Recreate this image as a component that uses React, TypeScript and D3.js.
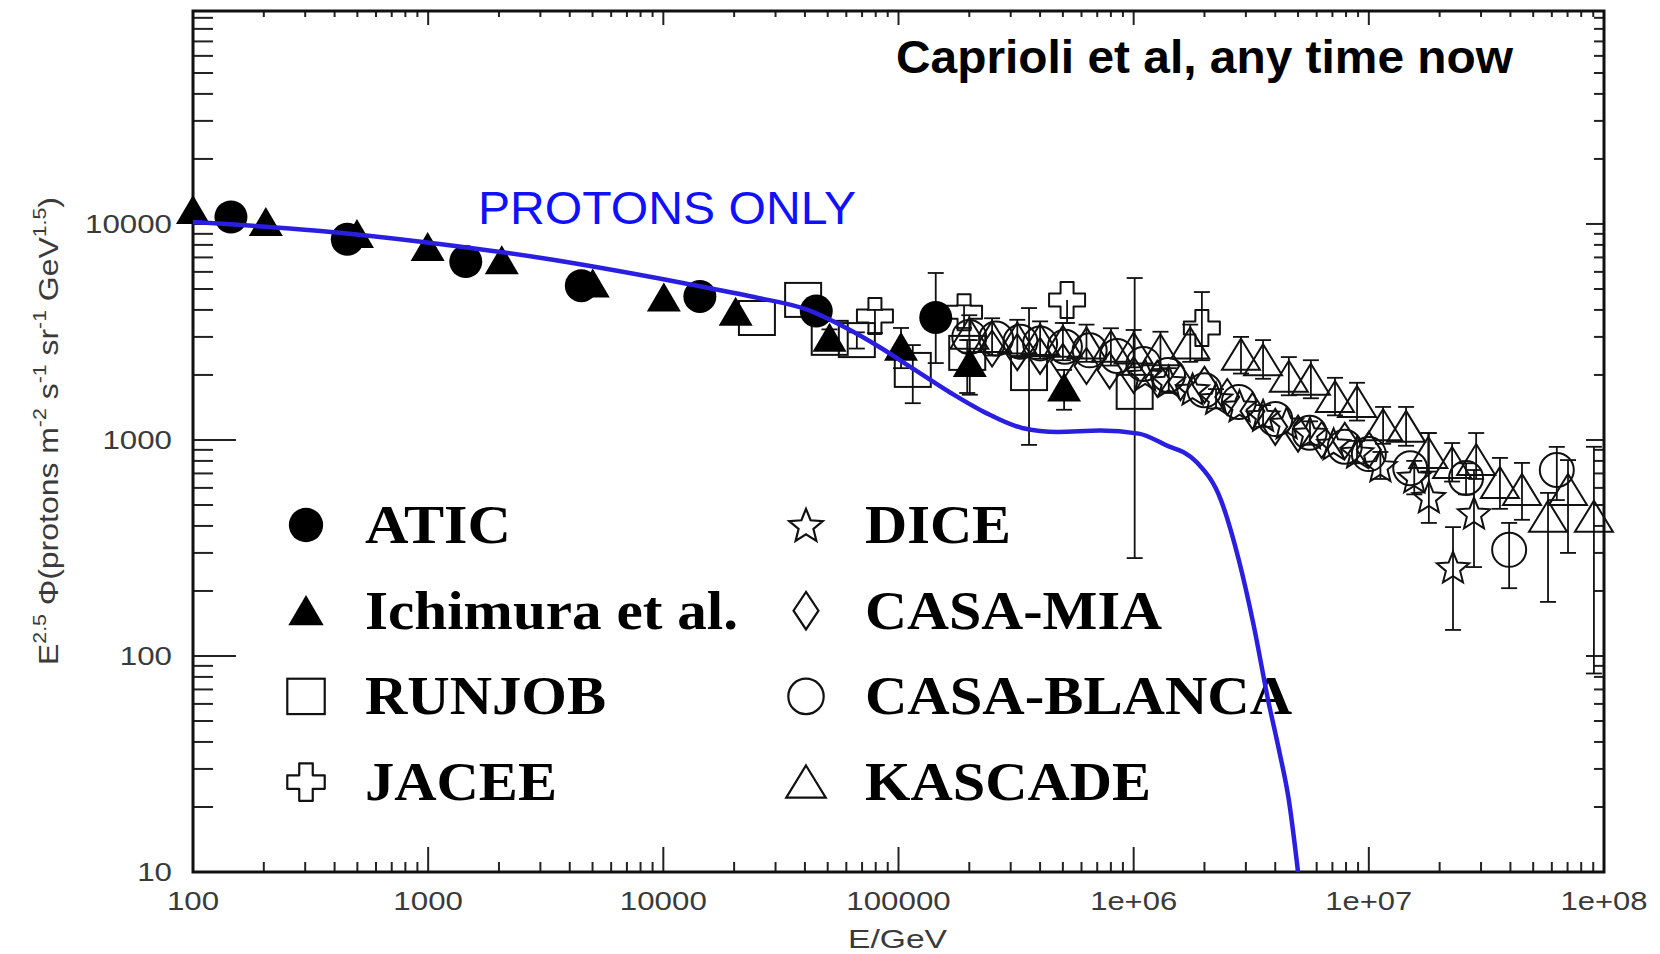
import React from 'react';
import * as d3 from 'd3';

const WIDTH = 1660;
const HEIGHT = 954;

// axis ticks
const xTickValues = [100, 1000, 10000, 100000, 1e6, 1e7, 1e8];
const xTickLabels = ['100', '1000', '10000', '100000', '1e+06', '1e+07', '1e+08'];
const yTickValues = [10, 100, 1000, 10000];
const yTickLabels = ['10', '100', '1000', '10000'];

// ATIC (filled circles)
const aticE = [145, 453, 1445, 4480, 14300, 44700, 144000];
const aticFlux = [10770, 8490, 6700, 5180, 4620, 3950, 3690];
const aticHi = [null, null, null, null, null, 4300, 5930];
const aticLo = [null, null, null, null, null, 3650, 2270];

// Ichimura et al. (filled triangles)
const ichimuraE = [100, 204, 498, 995, 2056, 5010, 10050, 20300, 50900, 102500, 201000, 506000];
const ichimuraFlux = [11600, 10200, 8990, 7830, 6800, 5300, 4570, 3920, 2970, 2700, 2270, 1750];
const ichimuraHi = [null, null, null, null, null, null, null, null, 3250, 3300, 2900, 2110];
const ichimuraLo = [null, null, null, null, null, null, null, null, 2700, 2150, 1620, 1380];

// RUNJOB (open squares)
const runjobE = [25000, 39300, 51000, 66500, 115000, 196000, 359000, 1010000];
const runjobFlux = [3670, 4450, 2970, 2900, 2110, 2530, 2040, 1670];
const runjobHi = [null, null, null, 3150, 2750, 2900, 4080, 5620];
const runjobLo = [null, null, null, 2650, 1480, 1650, 949, 284];

// JACEE (open crosses)
const jaceeE = [79400, 190000, 521000, 1950000];
const jaceeFlux = [3750, 3900, 4450, 3300];
const jaceeHi = [4000, 4200, null, 4840];
const jaceeLo = [3130, 3300, 3480, 2340];

// DICE (open stars)
const diceE = [1.12e6, 1.41e6, 1.78e6, 2.24e6, 2.82e6, 3.55e6, 4.47e6, 5.62e6, 7.08e6, 8.91e6, 1.12e7, 1.56e7, 1.8e7, 2.28e7, 2.8e7];
const diceFlux = [2000, 1870, 1720, 1560, 1440, 1300, 1200, 1080, 960, 880, 760, 675, 545, 258, 459];
const diceHi = [null, 2150, null, 1720, null, 1450, null, 1220, null, 990, 880, 800, 1077, 395, 726];
const diceLo = [null, 1650, null, 1400, null, 1150, null, 950, null, 780, 660, 560, 413, 132, 258];

// CASA-MIA (open diamonds)
const casaMiaE = [2.5e5, 3.2e5, 4e5, 5e5, 6.3e5, 7.9e5, 1e6, 1.26e6, 1.58e6, 2e6, 2.5e6, 3.2e6, 4e6, 5e6, 6.3e6, 7.9e6, 1e7];
const casaMiaFlux = [2650, 2550, 2450, 2300, 2200, 2100, 2000, 1920, 1850, 1800, 1580, 1360, 1150, 1070, 1000, 990, 900];

// CASA-BLANCA (open circles)
const casaBlancaE = [2e5, 2.6e5, 3.3e5, 4e5, 5.1e5, 6.5e5, 8.5e5, 1.1e6, 1.4e6, 2e6, 2.8e6, 4e6, 5.6e6, 7.9e6, 1e7, 1.5e7, 2.59e7, 3.95e7, 6.3e7];
const casaBlancaFlux = [3000, 2950, 2850, 2800, 2700, 2600, 2450, 2250, 2000, 1700, 1500, 1250, 1080, 930, 860, 740, 667, 310, 726];
const casaBlancaHi = [null, null, null, null, null, null, null, null, null, null, null, null, null, null, null, null, 780, 413, 929];
const casaBlancaLo = [null, null, null, null, null, null, null, null, null, null, null, null, null, null, null, null, 560, 206, 527];

// KASCADE (open triangles)
const kascadeE = [2e5, 2.5e5, 3.2e5, 4e5, 5e5, 6.3e5, 8e5, 1e6, 1.3e6, 1.74e6, 2.86e6, 3.55e6, 4.57e6, 5.67e6, 7.18e6, 8.91e6, 1.15e7, 1.44e7, 1.79e7, 2.26e7, 2.86e7, 3.61e7, 4.48e7, 5.78e7, 7.03e7, 9.06e7];
const kascadeFlux = [3100, 3000, 2950, 2900, 2850, 2800, 2700, 2650, 2600, 2800, 2480, 2340, 1960, 1900, 1580, 1500, 1170, 1150, 871, 783, 807, 632, 587, 441, 587, 441];
const kascadeHi = [3780, 3660, 3600, 3540, 3480, 3420, 3290, 3230, 3170, 3420, 3000, 2900, 2420, 2340, 1940, 1840, 1422, 1422, 1077, 968, 1077, 826, 783, 569, 807, 930];
const kascadeLo = [2540, 2460, 2420, 2380, 2340, 2300, 2210, 2170, 2130, 2300, 2030, 1920, 1610, 1560, 1300, 1230, 960, 940, 714, 642, 660, 480, 427, 178, 300, 83];

// proton-only model curve
const modelE = [100, 339, 951, 2990, 12100, 24300, 41200, 58600, 82600, 117500, 167000, 235000, 335000, 476000, 722000, 1050000, 1360000, 1850000, 2350000, 2800000, 3250000, 3730000, 4150000, 4570000, 5000000];
const modelFlux = [10200, 9310, 8260, 6970, 5330, 4590, 4000, 3340, 2700, 2110, 1650, 1335, 1137, 1090, 1105, 1070, 950, 790, 527, 278, 136, 62.5, 36.7, 21.5, 10];

const legendNames = ['ATIC', 'Ichimura et al.', 'RUNJOB', 'JACEE', 'DICE', 'CASA-MIA', 'CASA-BLANCA', 'KASCADE'];

type Kind = 'filledCircle' | 'filledTriangle' | 'square' | 'cross' | 'star' | 'diamond' | 'circle' | 'triangle';

const margin = { top: 11, right: 56, bottom: 82, left: 193 };

const Marker = ({ kind, cx, cy, k = 1, sw = 2 }: { kind: Kind; cx: number; cy: number; k?: number; sw?: number }) => {
  const stroke = { fill: 'none', stroke: '#111', strokeWidth: sw };
  switch (kind) {
    case 'filledCircle':
      return <circle cx={cx} cy={cy} r={16.5 * k} fill="#000" />;
    case 'filledTriangle':
      return <path d={`M${cx},${cy - 15 * k}L${cx + 17 * k},${cy + 14 * k}L${cx - 17 * k},${cy + 14 * k}Z`} fill="#000" />;
    case 'square':
      return <rect x={cx - 18 * k} y={cy - 17 * k} width={36 * k} height={34 * k} {...stroke} />;
    case 'cross': {
      const a = 6.5 * k, L = 18 * k;
      const pts = [[-a, -L], [a, -L], [a, -a], [L, -a], [L, a], [a, a], [a, L], [-a, L], [-a, a], [-L, a], [-L, -a], [-a, -a]];
      return <path d={'M' + pts.map(p => `${cx + p[0]},${cy + p[1]}`).join('L') + 'Z'} {...stroke} strokeLinejoin="round" />;
    }
    case 'star': {
      const pts: string[] = [];
      for (let i = 0; i < 10; i++) {
        const r = i % 2 === 0 ? 17 * k : 7.5 * k;
        const ang = -Math.PI / 2 + (i * Math.PI) / 5;
        pts.push(`${cx + r * Math.cos(ang)},${cy + r * Math.sin(ang) + 1.5 * k}`);
      }
      return <path d={'M' + pts.join('L') + 'Z'} {...stroke} />;
    }
    case 'diamond':
      return <path d={`M${cx},${cy - 18 * k}L${cx + 12 * k},${cy}L${cx},${cy + 18 * k}L${cx - 12 * k},${cy}Z`} {...stroke} />;
    case 'circle':
      return <circle cx={cx} cy={cy} r={17 * k} {...stroke} />;
    case 'triangle':
      return <path d={`M${cx},${cy - 16 * k}L${cx + 19 * k},${cy + 15 * k}L${cx - 19 * k},${cy + 15 * k}Z`} {...stroke} />;
  }
  return null;
};

const App: React.FC = () => {
  const x = d3.scaleLog().domain([100, 1e8]).range([margin.left, WIDTH - margin.right]);
  const y = d3.scaleLog().domain([10, 96800]).range([HEIGHT - margin.bottom, margin.top]);
  const [x0, x1] = x.range();
  const [y0, y1] = y.range();

  const series: { kind: Kind; E: number[]; F: number[]; hi?: (number | null)[]; lo?: (number | null)[] }[] = [
    { kind: 'square', E: runjobE, F: runjobFlux, hi: runjobHi, lo: runjobLo },
    { kind: 'cross', E: jaceeE, F: jaceeFlux, hi: jaceeHi, lo: jaceeLo },
    { kind: 'diamond', E: casaMiaE, F: casaMiaFlux },
    { kind: 'circle', E: casaBlancaE, F: casaBlancaFlux, hi: casaBlancaHi, lo: casaBlancaLo },
    { kind: 'triangle', E: kascadeE, F: kascadeFlux, hi: kascadeHi, lo: kascadeLo },
    { kind: 'star', E: diceE, F: diceFlux, hi: diceHi, lo: diceLo },
    { kind: 'filledTriangle', E: ichimuraE, F: ichimuraFlux, hi: ichimuraHi, lo: ichimuraLo },
    { kind: 'filledCircle', E: aticE, F: aticFlux, hi: aticHi, lo: aticLo },
  ];

  const legendKinds: Kind[] = ['filledCircle', 'filledTriangle', 'square', 'cross', 'star', 'diamond', 'circle', 'triangle'];
  const legendWidths = [146, 373, 241, 192, 146, 297, 427, 286];

  // minor ticks
  const xMinor: number[] = [];
  xTickValues.slice(0, -1).forEach(d => { for (let m = 2; m <= 9; m++) xMinor.push(m * d); });
  const yMinor: number[] = [];
  yTickValues.forEach(d => { for (let m = 2; m <= 9; m++) if (m * d <= 96800) yMinor.push(m * d); });

  const model = modelE.map((e, i) => [e, modelFlux[i]] as [number, number]);
  const line = d3.line<[number, number]>().x(d => x(d[0])).y(d => y(d[1])).curve(d3.curveMonotoneX);

  const tickFont = { fontFamily: 'Liberation Sans, Arial, sans-serif', fontSize: 25, fill: '#3a3a3a' };
  const charW = 17.4;

  return (
    <div style={{ position: 'absolute', left: 0, top: 0 }}>
      <svg width={WIDTH} height={HEIGHT} style={{ display: 'block', background: '#fff' }}>
        {/* ticks */}
        {xMinor.map((v, i) => (
          <g key={'xm' + i} stroke="#222" strokeWidth={2}>
            <line x1={x(v)} x2={x(v)} y1={y0} y2={y0 - 10} />
            <line x1={x(v)} x2={x(v)} y1={y1} y2={y1 + 6} />
          </g>
        ))}
        {xTickValues.map((v, i) => (
          <g key={'xM' + i} stroke="#222" strokeWidth={2}>
            <line x1={x(v)} x2={x(v)} y1={y0} y2={y0 - 25} />
            <line x1={x(v)} x2={x(v)} y1={y1} y2={y1 + 14} />
          </g>
        ))}
        {yMinor.map((v, i) => (
          <g key={'ym' + i} stroke="#222" strokeWidth={2}>
            <line x1={x0} x2={x0 + 20} y1={y(v)} y2={y(v)} />
            <line x1={x1} x2={x1 - 10} y1={y(v)} y2={y(v)} />
          </g>
        ))}
        {yTickValues.map((v, i) => (
          <g key={'yM' + i} stroke="#222" strokeWidth={2}>
            <line x1={x0} x2={x0 + 43} y1={y(v)} y2={y(v)} />
            <line x1={x1} x2={x1 - 18} y1={y(v)} y2={y(v)} />
          </g>
        ))}
        <rect x={x0} y={y1} width={x1 - x0} height={y0 - y1} fill="none" stroke="#111" strokeWidth={3} />

        {/* tick labels */}
        {xTickLabels.map((t, i) => (
          <text key={'xl' + i} x={x(xTickValues[i]) - (t.length * charW) / 2} y={y0 + 38} {...tickFont}
            textLength={t.length * charW} lengthAdjust="spacingAndGlyphs">{t}</text>
        ))}
        {yTickLabels.map((t, i) => (
          <text key={'yl' + i} x={172 - t.length * charW} y={y(yTickValues[i]) + 9} {...tickFont}
            textLength={t.length * charW} lengthAdjust="spacingAndGlyphs">{t}</text>
        ))}
        <text x={848} y={948} {...tickFont} textLength={99} lengthAdjust="spacingAndGlyphs">E/GeV</text>
        <g transform="translate(58,665) rotate(-90)">
          <text x={0} y={0} {...tickFont} fontSize={27} textLength={468} lengthAdjust="spacingAndGlyphs">
            E<tspan fontSize={18} dy={-12}>2.5</tspan>
            <tspan dy={12}> Φ(protons m</tspan><tspan fontSize={18} dy={-12}>-2</tspan>
            <tspan dy={12}> s</tspan><tspan fontSize={18} dy={-12}>-1</tspan>
            <tspan dy={12}> sr</tspan><tspan fontSize={18} dy={-12}>-1</tspan>
            <tspan dy={12}> GeV</tspan><tspan fontSize={18} dy={-12}>1.5</tspan>
            <tspan dy={12}>)</tspan>
          </text>
        </g>

        {/* legend */}
        {legendNames.map((name, i) => {
          const col = Math.floor(i / 4);
          const row = i % 4;
          const base = 543 + row * 85.7;
          return (
            <g key={'lg' + i}>
              <Marker kind={legendKinds[i]} cx={306 + col * 500} cy={base - 18} k={1.04} sw={2.2} />
              <text x={365 + col * 500} y={base} fontFamily="Liberation Serif, Times New Roman, serif" fontWeight="bold"
                fontSize={54} fill="#000" textLength={legendWidths[i]} lengthAdjust="spacingAndGlyphs">{name}</text>
            </g>
          );
        })}

        {/* data */}
        {series.map((s, si) => (
          <g key={'s' + si}>
            {s.E.map((e, i) => {
              const hi = s.hi ? s.hi[i] : null;
              const lo = s.lo ? s.lo[i] : null;
              if (hi == null && lo == null) return null;
              const cx = x(e);
              const top = y(hi ?? s.F[i]);
              const bot = y(lo ?? s.F[i]);
              return (
                <g key={'e' + i} stroke="#111" strokeWidth={1.8}>
                  <line x1={cx} x2={cx} y1={top} y2={bot} />
                  {hi != null && <line x1={cx - 8} x2={cx + 8} y1={top} y2={top} />}
                  {lo != null && <line x1={cx - 8} x2={cx + 8} y1={bot} y2={bot} />}
                </g>
              );
            })}
            {s.E.map((e, i) => (
              <Marker key={'m' + i} kind={s.kind} cx={x(e)} cy={y(s.F[i])} />
            ))}
          </g>
        ))}

        {/* model line */}
        <path d={line(model) || ''} fill="none" stroke="#2a1fe0" strokeWidth={4.5} strokeLinejoin="round" />

        {/* annotations */}
        <text x={478} y={224} fontFamily="Liberation Sans, Arial, sans-serif" fontSize={46} fill="#1010ff"
          textLength={378} lengthAdjust="spacingAndGlyphs">PROTONS ONLY</text>
        <text x={896} y={73} fontFamily="Liberation Sans, Arial, sans-serif" fontWeight="bold" fontSize={47} fill="#000"
          textLength={617} lengthAdjust="spacingAndGlyphs">Caprioli et al, any time now</text>
      </svg>
    </div>
  );
};

export default App;
